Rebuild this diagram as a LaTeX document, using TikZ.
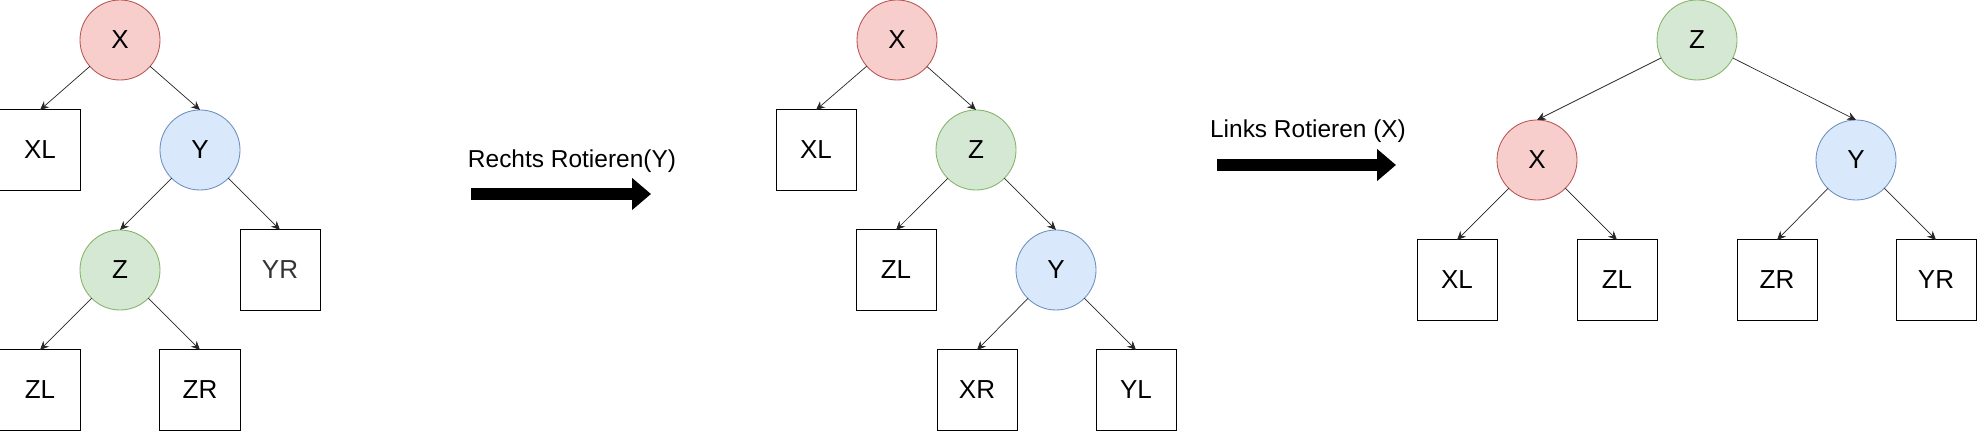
\documentclass[tikz,border=0pt]{standalone}
\usepackage{fontspec}
\setmainfont{Liberation Sans}
\usetikzlibrary{arrows.meta}

\definecolor{rotF}{HTML}{F8CECC}
\definecolor{rotR}{HTML}{B85450}
\definecolor{blauF}{HTML}{DAE8FC}
\definecolor{blauR}{HTML}{6C8EBF}
\definecolor{gruenF}{HTML}{D5E8D4}
\definecolor{gruenR}{HTML}{82B366}
\definecolor{grauT}{HTML}{333333}

\begin{document}
\begin{tikzpicture}[x=0.025cm, y=-0.025cm]
\tikzset{ >={Stealth[length=0.22cm,width=0.2cm]}, inner sep=0pt, outer sep=0pt,
  kreis/.style={circle, minimum size=2cm, line width=0.6pt, font=\fontsize{18.5}{22}\selectfont},
  rot/.style={kreis, fill=rotF, draw=rotR},
  blau/.style={kreis, fill=blauF, draw=blauR},
  gruen/.style={kreis, fill=gruenF, draw=gruenR},
  blatt/.style={rectangle, draw=black, line width=0.7pt, minimum size=2cm, font=\fontsize{18.5}{22}\selectfont},
  kante/.style={->, line width=0.5pt, draw=black!85},
  pfeil/.style={line width=0.3cm, -{Triangle[length=0.475cm,width=0.775cm]}},
  titel/.style={anchor=base, font=\fontsize{17.4}{20}\selectfont},
}

%\draw [lightgray, dashed](0,0) grid (1977,431);
\useasboundingbox (0,0) rectangle (1977,431);

%%% Knoten

% Baum 1 (Ausgang)
\node [rot]   (X1)  at (120,40)  {X};
\node [blatt] (XL1) at (40,150)  {XL};
\node [blau]  (Y1)  at (200,150) {Y};
\node [gruen] (Z1)  at (120,270) {Z};
\node [blatt, text=grauT] (YR1) at (280,270) {YR};
\node [blatt] (ZL1) at (40,390)  {ZL};
\node [blatt] (ZR1) at (200,390) {ZR};

% Baum 2 (nach Rechtsrotation)
\node [rot]   (X2)  at (897,40)   {X};
\node [blatt] (XL2) at (816,150)  {XL};
\node [gruen] (Z2)  at (976,150)  {Z};
\node [blatt] (ZL2) at (896,270)  {ZL};
\node [blau]  (Y2)  at (1056,270) {Y};
\node [blatt] (XR2) at (977,390)  {XR};
\node [blatt] (YL2) at (1136,390) {YL};

% Baum 3 (nach Linksrotation)
\node [gruen] (Z3)  at (1697,40)  {Z};
\node [rot]   (X3)  at (1537,160) {X};
\node [blau]  (Y3)  at (1856,160) {Y};
\node [blatt] (XL3) at (1457,280) {XL};
\node [blatt] (ZL3) at (1617,280) {ZL};
\node [blatt] (ZR3) at (1777,280) {ZR};
\node [blatt] (YR3) at (1936,280) {YR};

%%% Linien

% Baum 1
\draw [kante] (X1) -- (XL1.north);
\draw [kante] (X1) -- (Y1.north);
\draw [kante] (Y1) -- (Z1.north);
\draw [kante] (Y1) -- (YR1.north);
\draw [kante] (Z1) -- (ZL1.north);
\draw [kante] (Z1) -- (ZR1.north);

% Baum 2
\draw [kante] (X2) -- (XL2.north);
\draw [kante] (X2) -- (Z2.north);
\draw [kante] (Z2) -- (ZL2.north);
\draw [kante] (Z2) -- (Y2.north);
\draw [kante] (Y2) -- (XR2.north);
\draw [kante] (Y2) -- (YL2.north);

% Baum 3
\draw [kante] (Z3) -- (X3.north);
\draw [kante] (Z3) -- (Y3.north);
\draw [kante] (X3) -- (XL3.north);
\draw [kante] (X3) -- (ZL3.north);
\draw [kante] (Y3) -- (ZR3.north);
\draw [kante] (Y3) -- (YR3.north);

% Rechts Rotieren
\coordinate (R0) at (471,194);
\coordinate (R1) at (651,194);
\draw [pfeil] (R0) -- (R1);
\node [titel] (rechts) at (572,168) {Rechts Rotieren(Y)};

% Links Rotieren
\coordinate (L0) at (1217,165);
\coordinate (L1) at (1396,165);
\draw [pfeil] (L0) -- (L1);
\node [titel] (links) at (1308,138) {Links Rotieren (X)};

\end{tikzpicture}
\end{document}
